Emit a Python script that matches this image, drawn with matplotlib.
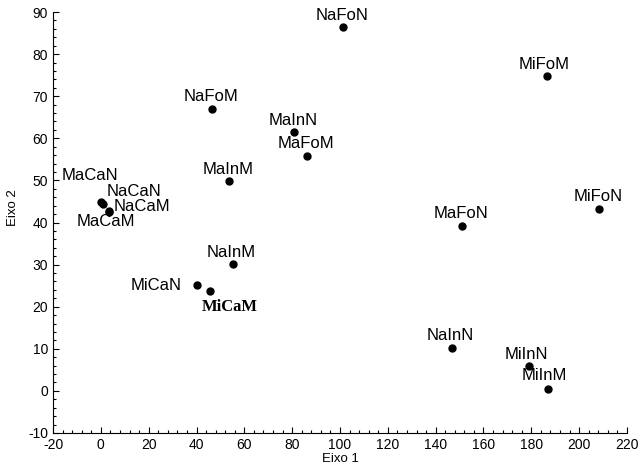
import matplotlib.pyplot as plt
from matplotlib.ticker import MultipleLocator

plt.rcParams['font.family'] = ['Liberation Sans', 'DejaVu Sans']
plt.rcParams['axes.unicode_minus'] = False

# scores on the two axes
labels = ['NaFoN', 'MiFoM', 'NaFoM', 'MaInN', 'MaFoM', 'MaInM', 'MaCaN', 'NaCaN',
          'NaCaM', 'MaCaM', 'MiFoN', 'MaFoN', 'NaInM', 'MiCaN', 'MiCaM', 'NaInN',
          'MiInN', 'MiInM']
eixo1 = [101.2, 186.4, 46.6, 80.8, 86.1, 53.7, 0.2, 1.0,
         3.5, 3.3, 208.3, 150.9, 55.1, 40.1, 45.6, 146.7,
         179.0, 187.1]
eixo2 = [86.4, 74.9, 67.0, 61.4, 55.9, 49.8, 44.9, 44.5,
         42.7, 42.5, 43.3, 39.2, 30.1, 25.1, 23.7, 10.2,
         5.8, 0.5]

# label offsets in pixels (dx, dy up), default is straight above the dot
offsets = {
    'MaCaN': (-11, 26), 'NaCaN': (31, 12), 'NaCaM': (33, 5), 'MaCaM': (-3, -10),
    'MiCaN': (-15, 0), 'MiCaM': (20, -16), 'MiInN': (-3, 12), 'MiInM': (-4, 13),
    'MiFoM': (-3, 11),
}

fig = plt.figure(figsize=(6.44, 4.71), dpi=100)
ax = fig.add_axes([0.0823, 0.0807, 0.8913, 0.8938])

ax.plot(eixo1, eixo2, 'o', color='black', markersize=5, clip_on=False)

for name, x, y in zip(labels, eixo1, eixo2):
    dx, dy = offsets.get(name, (-1, 12))
    if name == 'MiCaN':
        ax.annotate(name, (x, y), xytext=(dx, dy), textcoords='offset pixels',
                    ha='right', va='center', fontsize=12)
    elif name == 'MiCaM':
        ax.annotate(name, (x, y), xytext=(dx, dy), textcoords='offset pixels',
                    ha='center', va='center', fontsize=12, fontweight='bold',
                    family='Liberation Serif')
    else:
        ax.annotate(name, (x, y), xytext=(dx, dy), textcoords='offset pixels',
                    ha='center', va='center', fontsize=12)

ax.set_xlim(-20, 220)
ax.set_ylim(-10, 90)
ax.xaxis.set_major_locator(MultipleLocator(20))
ax.xaxis.set_minor_locator(MultipleLocator(4))
ax.yaxis.set_major_locator(MultipleLocator(10))
ax.yaxis.set_minor_locator(MultipleLocator(2))
ax.tick_params(which='both', direction='in', labelsize=10, width=0.8)
ax.tick_params(which='major', length=4)
ax.tick_params(which='minor', length=2)
ax.spines['top'].set_visible(False)
ax.spines['right'].set_visible(False)

ax.set_xlabel('Eixo 1', fontsize=9.5, labelpad=1)
ax.set_ylabel('Eixo 2', fontsize=9.5)
ax.yaxis.set_label_coords(-0.06, 0.535)

# panel letter, cut by the bottom edge as in the original
fig.text(0.985, 0.011, 'a', fontsize=20, fontweight='bold', ha='center', va='top')

plt.savefig('out.png', dpi=100)
